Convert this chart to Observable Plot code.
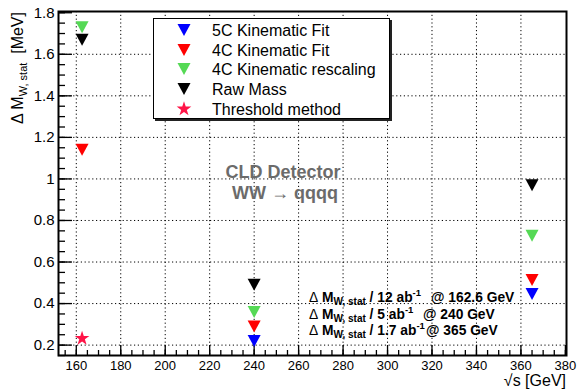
<!DOCTYPE html>
<html>
<head>
<meta charset="utf-8">
<script src="https://cdn.jsdelivr.net/npm/d3@7"></script>
<script src="https://cdn.jsdelivr.net/npm/@observablehq/plot@0.6"></script>
<style>
  html, body { margin: 0; padding: 0; background: white; }
  #wrap { position: relative; width: 577px; height: 391px; font-family: "Liberation Sans", Arial, sans-serif; color: #000; }
  .ov { position: absolute; white-space: pre; line-height: 1; }
  .legend { position: absolute; left: 153px; top: 18px; width: 235px; height: 99px; border: 1px solid #000; background: #fff; box-shadow: 2px 2px 0 #222; }
  .lrow { position: absolute; left: 0; height: 20px; width: 100%; }
  .lrow svg { position: absolute; left: 22px; top: 0; }
  .lrow span { position: absolute; left: 58px; top: 2px; font-size: 16px; }
  .ann { font-weight: bold; font-size: 13.8px; }
  .ann sub { font-size: 10px; vertical-align: -3px; line-height: 0; }
  .ann sup { font-size: 9.5px; vertical-align: 6px; line-height: 0; }
  .delta { font-weight: normal; }
</style>
</head>
<body>
<div id="wrap"></div>
<script>
// ---- data ----
const energies = [162.6, 240, 365];
const methods = ["5C Kinematic Fit", "4C Kinematic Fit", "4C Kinematic rescaling", "Raw Mass", "Threshold method"];
const methodColors = ["#0000ff", "#ff0000", "#55d955", "#000000", "#ff1447"];
const fit5C = [null, 0.22, 0.446];
const fit4C = [1.14, 0.29, 0.513];
const rescaling = [1.73, 0.36, 0.727];
const rawMass = [1.67, 0.49, 0.97];
const threshold = [0.232, null, null];
const xTickLabels = [160, 180, 200, 220, 240, 260, 280, 300, 320, 340, 360, 380];
const yTickLabels = [0.2, 0.4, 0.6, 0.8, 1.0, 1.2, 1.4, 1.6, 1.8];

// ---- table built from arrays (draw order: green, black, red, blue) ----
const series = [
  [methods[2], rescaling],
  [methods[3], rawMass],
  [methods[1], fit4C],
  [methods[0], fit5C]
];
const rows = [];
for (const [m, vals] of series) vals.forEach((v, i) => { if (v != null) rows.push({E: energies[i], v, method: m}); });
const starRows = [];
threshold.forEach((v, i) => { if (v != null) starRows.push({E: energies[i], v, method: methods[4]}); });

// custom down-pointing triangle (ROOT marker 23 style)
const triangleDown = {
  draw(ctx, size) {
    const r = Math.sqrt(size / Math.PI);
    const hw = r * 1.3, hh = r * 1.2;
    ctx.moveTo(-hw, -hh);
    ctx.lineTo(hw, -hh);
    ctx.lineTo(0, hh);
    ctx.closePath();
  }
};

const W = 577, H = 391, mL = 58, mR = 11, mT = 11, mB = 36;
const plotW = W - mL - mR, plotH = H - mT - mB;
const xMinor = d3.range(155, 381, 5);
const yMinor = d3.range(0.15, 1.801, 0.05);
const xGrid = xTickLabels.filter(d => d < 380);
const yGrid = yTickLabels.filter(d => d < 1.8);

const chart = Plot.plot({
  width: W, height: H,
  marginLeft: mL, marginRight: mR, marginTop: mT, marginBottom: mB,
  style: {background: "white", fontFamily: "'Liberation Sans', Arial, sans-serif", color: "black", overflow: "visible"},
  x: {domain: [152, 380.5], label: null},
  y: {domain: [0.15, 1.806], label: null},
  color: {domain: methods, range: methodColors},
  marks: [
    Plot.ruleX(xGrid, {stroke: "#000", strokeWidth: 1, strokeDasharray: "1.2,2.6"}),
    Plot.ruleY(yGrid, {stroke: "#000", strokeWidth: 1, strokeDasharray: "1.2,2.6"}),
    Plot.tickY(yTickLabels, {stroke: "#000", strokeWidth: 1.3, insetRight: plotW - 14}),
    Plot.tickY(yMinor, {stroke: "#000", strokeWidth: 1.3, insetRight: plotW - 7}),
    Plot.tickX(xTickLabels, {stroke: "#000", strokeWidth: 1.3, insetTop: plotH - 10}),
    Plot.tickX(xMinor, {stroke: "#000", strokeWidth: 1.3, insetTop: plotH - 5}),
    Plot.frame({stroke: "#000", strokeWidth: 2}),
    Plot.axisX({ticks: xTickLabels, tickSize: 0, tickPadding: 5, fontSize: 13, label: null, tickFormat: d => String(d)}),
    Plot.axisY({ticks: yTickLabels, tickSize: 0, tickPadding: 4, fontSize: 15, label: null, tickFormat: d => String(+d.toFixed(1))}),
    Plot.dot(rows, {x: "E", y: "v", fill: "method", symbol: triangleDown, r: 5, stroke: "none"}),
    Plot.dot(starRows, {x: "E", y: "v", fill: "method", symbol: "star", r: 4.6, stroke: "none"})
  ]
});

const wrap = document.getElementById("wrap");
wrap.appendChild(chart);

function ov(html, style, cls) {
  const d = document.createElement("div");
  d.className = "ov" + (cls ? " " + cls : "");
  d.innerHTML = html;
  Object.assign(d.style, style);
  wrap.appendChild(d);
  return d;
}

// y-axis title
ov('Δ M<sub style="font-size:11px;vertical-align:-4px;line-height:0">W, stat</sub>  [MeV]',
   {left: "18px", top: "12px", fontSize: "16px", transformOrigin: "0 0", transform: "rotate(-90deg) translate(-100%, -50%)"});
// x-axis title
ov('√s [GeV]', {right: (W - 566) + "px", top: "373px", fontSize: "16px"});

// legend
const leg = document.createElement("div");
leg.className = "legend";
wrap.appendChild(leg);
const symPath = (t) => d3.symbol().type(t).size(Math.PI * 25)();
const starPath = d3.symbol().type(d3.symbolStar).size(Math.PI * 4.6 * 4.6)();
methods.forEach((m, i) => {
  const r = document.createElement("div");
  r.className = "lrow";
  r.style.top = (1 + i * 19.7) + "px";
  const p = i === 4 ? starPath : symPath(triangleDown);
  r.innerHTML = `<svg width="16" height="20" viewBox="-8 -10 16 20"><path d="${p}" fill="${methodColors[i]}"/></svg><span>${m}</span>`;
  leg.appendChild(r);
});

// detector annotation
ov('CLD Detector', {left: "283px", top: "163px", transform: "translateX(-50%)", fontSize: "18px", fontWeight: "bold", color: "#6b6b6b"});
ov('WW → qqqq', {left: "285px", top: "184px", transform: "translateX(-50%)", fontSize: "18px", fontWeight: "bold", color: "#6b6b6b"});

// luminosity annotations
const annLeft = ['/ 12 ab<sup>-1</sup>', '/ 5 ab<sup>-1</sup>', '/ 1.7 ab<sup>-1</sup>'];
const annRight = ['@ 162.6 GeV', '@ 240 GeV', '@ 365 GeV'];
const annAt = [431, 423, 426];
const annTop = [291, 308, 324];
annLeft.forEach((t, i) => {
  ov('<span class="delta">Δ</span> M<sub>W, stat</sub> ' + t, {left: "309px", top: annTop[i] + "px"}, "ann");
  ov(annRight[i], {left: annAt[i] + "px", top: annTop[i] + "px"}, "ann");
});
</script>
</body>
</html>
